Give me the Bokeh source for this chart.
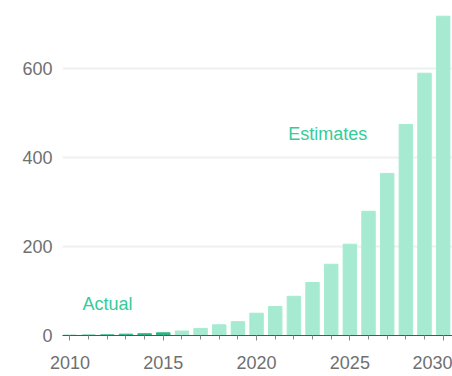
from bokeh.plotting import figure
from bokeh.models import ColumnDataSource, SingleIntervalTicker, Range1d, Label
from bokeh.embed import file_html
from bokeh.resources import INLINE

years = list(range(2010, 2031))
values = [0.5, 1, 1.5, 3, 4, 6, 10, 16, 24, 31, 50, 65, 88, 119, 160, 205, 279, 364, 474, 589, 717]
kinds = ["Actual"] * 6 + ["Estimates"] * 15
y_ticks = [0, 200, 400, 600]

ACTUAL = "#2fb583"
EST = "#a6ebd1"
TEXT_GREEN = "#35cc9a"

colors = [ACTUAL if k == "Actual" else EST for k in kinds]
src = ColumnDataSource(dict(year=years, value=values, color=colors))

p = figure(width=452, height=376, output_backend="svg", toolbar_location=None,
           x_range=Range1d(2009.6, 2030.5), y_range=Range1d(0, 741),
           min_border_left=62, min_border_right=0, min_border_top=5, min_border_bottom=41)
p.outline_line_color = None
p.background_fill_color = "white"
p.border_fill_color = "white"

p.vbar(x="year", top="value", width=0.72, color="color", source=src)

font = "Liberation Sans"
p.xaxis.ticker = SingleIntervalTicker(interval=5, num_minor_ticks=5)
p.xaxis.axis_line_color = "#555555"
p.xaxis.major_tick_line_color = "#888888"
p.xaxis.minor_tick_line_color = "#888888"
p.xaxis.major_tick_in = 0
p.xaxis.major_tick_out = 5
p.xaxis.minor_tick_in = 0
p.xaxis.minor_tick_out = 4
p.xaxis.major_label_standoff = 15
p.xaxis.major_label_text_font = font
p.xaxis.major_label_text_font_size = "18px"
p.xaxis.major_label_text_color = "#707070"

p.yaxis.ticker = y_ticks
p.yaxis.axis_line_color = None
p.yaxis.major_tick_line_color = None
p.yaxis.minor_tick_line_color = None
p.yaxis.major_label_standoff = 4
p.yaxis.major_label_text_font = font
p.yaxis.major_label_text_font_size = "18px"
p.yaxis.major_label_text_color = "#707070"

p.xgrid.grid_line_color = None
p.ygrid.grid_line_color = "#f0f0f0"
p.ygrid.grid_line_width = 2

p.add_layout(Label(x=2010.67, y=70, text="Actual", text_font=font, text_font_size="18px",
                   text_color=TEXT_GREEN, text_baseline="middle"))
p.add_layout(Label(x=2021.7, y=452, text="Estimates", text_font=font, text_font_size="18px",
                   text_color=TEXT_GREEN, text_baseline="middle"))

open("out.html", "w").write(file_html(p, INLINE))
